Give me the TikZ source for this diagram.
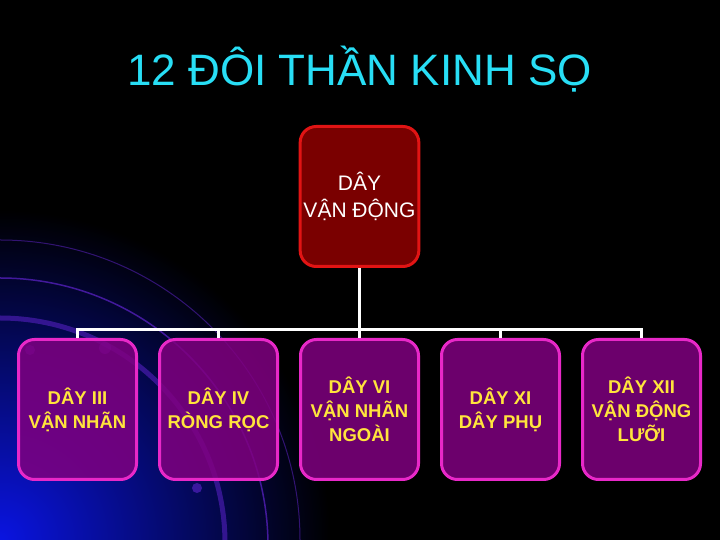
\documentclass[tikz,border=0pt]{standalone}
\usepackage{fontspec}
\setmainfont{Liberation Sans}
\usetikzlibrary{positioning}
\definecolor{titlecyan}{RGB}{40,222,245}
\definecolor{motorred}{RGB}{225,20,20}
\definecolor{motorfill}{RGB}{122,0,0}
\definecolor{nervepink}{RGB}{232,40,200}
\definecolor{nervefill}{RGB}{128,0,128}
\definecolor{nerveyellow}{RGB}{255,228,60}
\definecolor{glowblue}{RGB}{10,20,225}
\definecolor{arcviolet}{RGB}{110,40,230}
\tikzstyle{motor}=[rectangle, draw=motorred, line width=3pt, rounded corners=16pt, fill=motorfill,
        text centered, align=center, text=white, minimum width=118pt, minimum height=140pt,
        font=\fontsize{21}{27}\selectfont]
\tikzstyle{nerve}=[rectangle, draw=nervepink, line width=3pt, rounded corners=16pt, fill=nervefill,
        fill opacity=0.85, text opacity=1, text centered, align=center, text=nerveyellow,
        minimum width=118pt, minimum height=140pt, font=\bfseries\fontsize{18.5}{24}\selectfont]
\tikzstyle{link}=[draw=white, line width=3pt]

\begin{document}
\begin{tikzpicture}[x=1pt, y=1pt, node distance=20pt]
        \useasboundingbox (0,0) rectangle (720,540);
        \fill[black] (0,0) rectangle (720,540);
        \begin{scope}
          \clip (0,0) rectangle (720,540);
          \shade[inner color=glowblue, outer color=black] (0,0) circle (330);
          \draw[arcviolet, line width=5pt, opacity=0.45] (0,222) arc (90:0:225);
          \draw[arcviolet, line width=1.5pt, opacity=0.6] (0,262) arc (90:0:268);
          \draw[arcviolet, line width=1pt, opacity=0.45] (0,300) arc (90:0:300);
          \fill[arcviolet, opacity=0.5] (30,190) circle (5) (105,192) circle (6) (197,52) circle (5);
        \end{scope}
        \node (title) at (359.5,471) [text=titlecyan, font=\fontsize{44}{50}\selectfont]
        {12 ĐÔI THẦN KINH SỌ};
        \node (motor) at (359.5,343.5) [motor]
        {
          DÂY\\VẬN ĐỘNG
        };
        \node (six) [nerve, below=70pt of motor]
        {
          DÂY VI\\VẬN NHÃN\\NGOÀI
        };
        \node (four) [nerve, left=of six]
        {
          DÂY IV\\RÒNG RỌC
        };
        \node (three) [nerve, left=of four]
        {
          DÂY III\\VẬN NHÃN
        };
        \node (eleven) [nerve, right=of six]
        {
          DÂY XI\\DÂY PHỤ
        };
        \node (twelve) [nerve, right=of eleven]
        {
          DÂY XII\\VẬN ĐỘNG\\LƯỠI
        };
        \draw[link] (motor.south) -- ++(0,-62) coordinate (bar);
        \draw[link, line cap=rect] (bar -| three.north) -- (bar -| twelve.north);
        \foreach \n in {three,four,six,eleven,twelve}
          \draw[link] (bar -| \n.north) -- (\n.north);
      \end{tikzpicture}
\end{document}
